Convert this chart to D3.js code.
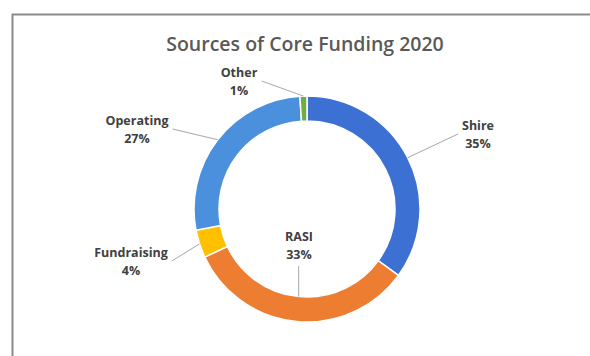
<!DOCTYPE html>
<html>
<head>
<meta charset="utf-8">
<script src="https://cdn.jsdelivr.net/npm/d3@7"></script>
<style>
  html, body { margin: 0; padding: 0; background: #ffffff; }
  svg { display: block; }
</style>
</head>
<body>
<svg id="chart" width="590" height="356"></svg>
<script>
// Core funding sources, clockwise from 12 o'clock
const categories = ["Shire", "RASI", "Fundraising", "Operating", "Other"];
const shares = [35, 33, 4, 27, 1];
const sliceColors = ["#3d70d3", "#ed7d31", "#ffc000", "#4b90dc", "#70ad47"];
const titleText = "Sources of Core Funding 2020";

// Label block centres relative to the ring centre, and which side the leader leaves from
const labelOffsets = [
  { dx: 171, dy: -75, side: "left" },
  { dx: -8, dy: 36, side: "bottom" },
  { dx: -176, dy: 52, side: "right" },
  { dx: -170, dy: -80, side: "right" },
  { dx: -68, dy: -128, side: "right" }
];

const W = 590, H = 356;
const cx = 307, cy = 209;
const outerR = 113, innerR = 88;

const svg = d3.select("#chart");

// chart frame (only top and left edges fall inside the view)
svg.append("rect")
  .attr("x", 12.5).attr("y", 14.5)
  .attr("width", W + 20).attr("height", H + 20)
  .attr("fill", "#ffffff")
  .attr("stroke", "#8a8a8a")
  .attr("stroke-width", 2);

svg.append("text")
  .attr("x", 305).attr("y", 51)
  .attr("text-anchor", "middle")
  .attr("font-family", "'Open Sans', sans-serif")
  .attr("font-weight", 600)
  .attr("font-size", 19.5)
  .attr("fill", "#595959")
  .text(titleText);

const data = categories.map((c, i) => ({ name: c, value: shares[i], color: sliceColors[i], layout: labelOffsets[i] }));

const pie = d3.pie().value(d => d.value).sort(null).startAngle(0).endAngle(2 * Math.PI);
const arcs = pie(data);
const arc = d3.arc().innerRadius(innerR).outerRadius(outerR);

const g = svg.append("g").attr("transform", `translate(${cx},${cy})`);

g.selectAll("path.slice")
  .data(arcs)
  .join("path")
  .attr("class", "slice")
  .attr("d", arc)
  .attr("fill", d => d.data.color)
  .attr("stroke", "#ffffff")
  .attr("stroke-width", 1.5);

const total = d3.sum(shares);
const fmt = v => Math.round(v / total * 100) + "%";

arcs.forEach(a => {
  const L = a.data.layout;
  const lab = g.append("text")
    .attr("text-anchor", "middle")
    .attr("font-family", "'Open Sans', sans-serif")
    .attr("font-weight", 700)
    .attr("font-size", 12.5)
    .attr("fill", "#404040");
  lab.append("tspan").attr("x", L.dx).attr("y", L.dy - 4).text(a.data.name);
  lab.append("tspan").attr("x", L.dx).attr("y", L.dy + 14).text(fmt(a.data.value));

  // leader from the label block to the ring edge at the slice's mid-angle
  const bb = lab.node().getBBox();
  const mid = (a.startAngle + a.endAngle) / 2;
  let sx, sy, r;
  if (L.side === "left") { sx = bb.x - 4; sy = L.dy; r = outerR; }
  else if (L.side === "right") { sx = bb.x + bb.width + 4; sy = L.dy; r = outerR; }
  else { sx = Math.sin(mid) * innerR; sy = bb.y + bb.height + 3; r = innerR; }
  const ex = Math.sin(mid) * r, ey = -Math.cos(mid) * r;
  g.append("line")
    .attr("x1", sx).attr("y1", sy)
    .attr("x2", ex).attr("y2", ey)
    .attr("stroke", "#a6a6a6")
    .attr("stroke-width", 1);
});
</script>
</body>
</html>
